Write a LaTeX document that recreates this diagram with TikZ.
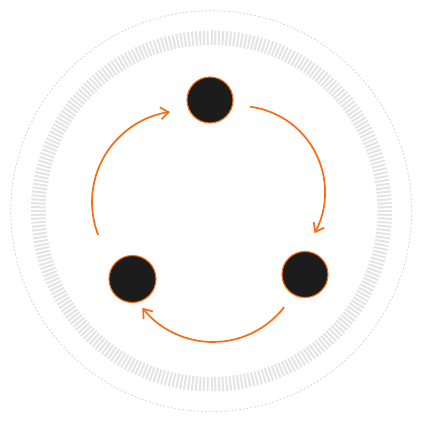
\documentclass[tikz,border=0pt]{standalone}
\usetikzlibrary{arrows.meta,calc}
\definecolor{orng}{RGB}{248,108,18}
\definecolor{nodefill}{RGB}{28,28,28}
\definecolor{tickgray}{RGB}{228,228,228}
\definecolor{dashgray}{RGB}{212,212,212}
\begin{document}
\begin{tikzpicture}[x=1pt,y=1pt,
  dot/.style={circle,fill=nodefill,draw=orng,line width=1.1pt,minimum size=46pt,inner sep=0pt},
  flow/.style={draw=orng,line width=1.7pt,-{Straight Barb[length=8pt,width=12pt]}},
  tickline/.style={draw=tickgray,line width=2pt},
  ring/.style={draw=dashgray,line width=0.8pt,dash pattern=on 1.8pt off 2pt}]
\useasboundingbox (0,0) rectangle (423,424);
\fill[white] (0,0) rectangle (423,424);
% outer dashed circle
\coordinate (oc) at (211.2,212.8);
\draw[ring] (oc) circle[radius=200.5];
% tick ring
\coordinate (rc) at (211.5,213);
\begin{scope}[shift={(rc)}]
  \foreach \i in {0,...,287}{
    \draw[tickline] (\i*1.25:166) -- (\i*1.25:180.5);
  }
\end{scope}
% nodes
\node[dot] (top) at (210,324) {};
\node[dot] (right) at (305,149.5) {};
\node[dot,minimum size=47pt] (left) at (132.5,145) {};
% arc centres
\coordinate (c1) at (239,232);
\coordinate (c2) at (213,172);
\coordinate (c3) at (183,222);
\coordinate (a1s) at ($(c1)+(82.5:86)$);
\coordinate (a2s) at ($(c2)+(-37.8:90)$);
\coordinate (a3s) at ($(c3)+(-158.8:91)$);
\draw[flow] (a1s) arc[start angle=82.5,end angle=-28.6,radius=86];
\draw[flow] (a2s) arc[start angle=-37.8,end angle=-141.7,radius=90];
\draw[flow] (a3s) arc[start angle=-158.8,end angle=-261.8,radius=91];
\end{tikzpicture}
\end{document}
